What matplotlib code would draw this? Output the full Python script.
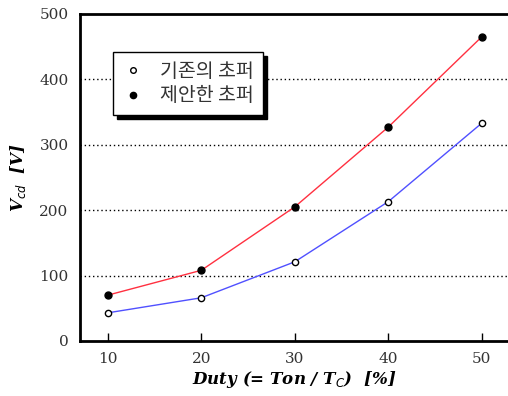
import numpy as np
import matplotlib.pyplot as plt

# data
duty = [10, 20, 30, 40, 50]
vcd_old = [43, 66, 121, 213, 333]   # 기존의 초퍼
vcd_new = [70, 108, 205, 327, 465]  # 제안한 초퍼
yticks = [0, 100, 200, 300, 400, 500]
labels = ['기존의 초퍼', '제안한 초퍼']

plt.rcParams['font.family'] = ['DejaVu Serif', 'Noto Sans CJK KR']

fig = plt.figure(figsize=(5.08, 3.96), dpi=100)
ax = fig.add_axes([0.157, 0.139, 0.843, 0.826])

ax.plot(duty, vcd_old, c='#5050ff', lw=1, marker='o', ms=4.5, mfc='white',
        mec='black', mew=1, label=labels[0], zorder=3)
ax.plot(duty, vcd_new, c='#ff3040', lw=1, marker='o', ms=5, mfc='black',
        mec='black', label=labels[1], zorder=3)

for y in yticks[1:-1]:
    ax.axhline(y, c='black', ls=(0, (1, 2)), lw=1, zorder=1)

ax.set_xlim(7, 52.8)
ax.set_ylim(0, 500)
ax.set_xticks(duty)
ax.set_yticks(yticks)
ax.tick_params(axis='x', direction='in', length=6, width=1, pad=8, labelsize=11)
ax.tick_params(axis='y', length=0, pad=8, labelsize=11)
for t in ax.get_xticklabels() + ax.get_yticklabels():
    t.set_color('#333333')

ax.spines['right'].set_visible(False)
for s in ['left', 'bottom', 'top']:
    ax.spines[s].set_linewidth(2)

ax.set_ylabel('V$_{cd}$  [V]', fontsize=12, fontweight='bold',
              fontstyle='italic', labelpad=8)
ax.set_xlabel('Duty (= Ton / T$_C$)  [%]', fontsize=12, fontweight='bold',
              fontstyle='italic', labelpad=2)

leg = ax.legend(loc='upper left', bbox_to_anchor=(0.077, 0.884), frameon=True,
                fancybox=False, edgecolor='black', framealpha=1,
                shadow={'color': 'black', 'alpha': 1, 'ox': 3, 'oy': -3},
                handlelength=1.2, handletextpad=0.8, borderpad=0.45,
                borderaxespad=0, labelspacing=0.2, markerscale=0.9,
                prop={'family': ['Noto Sans CJK KR'], 'size': 14})
for h in leg.legend_handles:
    h.set_linestyle('none')
for t in leg.get_texts():
    t.set_color('#333333')
leg.get_frame().set_linewidth(1)

fig.savefig('out.png', dpi=100)
